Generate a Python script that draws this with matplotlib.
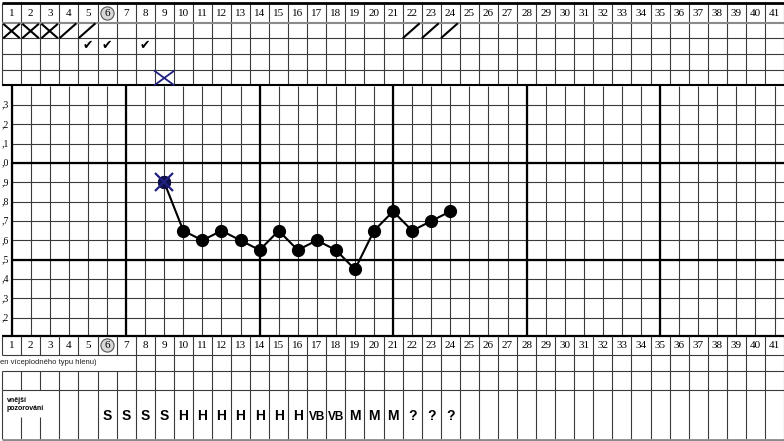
import numpy as np
import matplotlib.pyplot as plt

# basal temperature per cycle day
days = [9, 10, 11, 12, 13, 14, 15, 16, 17, 18, 19, 20, 21, 22, 23, 24]
temps = [36.90, 36.65, 36.60, 36.65, 36.60, 36.55, 36.65, 36.55,
         36.60, 36.55, 36.45, 36.65, 36.75, 36.65, 36.70, 36.75]
excluded_days = [9]

# marks in the header rows
cross_days = [1, 2, 3]
slash_days = [4, 5, 22, 23, 24]
check_days = [5, 6, 8]
blue_cross_days = [9]
circled_day = 6

# external observation ("vnější pozorování")
mucus_days = list(range(6, 25))
mucus_labels = ['S', 'S', 'S', 'S', 'H', 'H', 'H', 'H', 'H', 'H', 'H',
                'VB', 'VB', 'M', 'M', 'M', '?', '?', '?']

n_days = 41
temp_ticks = [37.3, 37.2, 37.1, 37.0, 36.9, 36.8, 36.7, 36.6, 36.5, 36.4, 36.3, 36.2]
temp_labels = [',3', ',2', ',1', ',0', ',9', ',8', ',7', ',6', ',5', ',4', ',3', ',2']
thick_days = [1, 7, 14, 21, 28, 35]
thick_temps = [37.0, 36.5]

W, H = 784, 441
col = 19.07  # pixels per day
x0 = 1 - 11.7 / col
x1 = x0 + W / col

fig = plt.figure(figsize=(W / 100, H / 100), dpi=100)
frame = fig.add_axes([0, 0, 1, 1])
frame.set_xlim(x0, x1)
frame.set_ylim(H, 0)
frame.axis('off')

edges = np.arange(0.5, n_days + 1.5)
thin = dict(color='#3a3a3a', lw=0.8)
serif = 'Liberation Serif'
sans = 'Liberation Sans'


def day_numbers(y):
    for d in range(1, n_days + 1):
        frame.text(d, y, str(d), ha='center', va='center', family=serif,
                   fontsize=8, zorder=5)
    frame.plot(circled_day, y - 0.3, 'o', ms=9.5, mfc='#d8d8d8', mec='#555',
               mew=0.8, zorder=4)


# ---- top header
frame.vlines(edges, 3.3, 85, **thin)
frame.hlines([38.3, 54, 70], 0.5, x1, **thin)
frame.hlines(22.7, 0.5, x1, color='#8a8a8a', lw=1.5)
frame.hlines(3.3, 0.5, x1, color='black', lw=2)
frame.hlines(85.3, 0.5, x1, color='black', lw=1.5)
day_numbers(13.5)

for d in cross_days:
    frame.plot([d - 0.4, d + 0.38], [24.5, 37.5], color='black', lw=1.5)
    frame.plot([d - 0.4, d + 0.38], [37.5, 24.5], color='black', lw=1.5)
for d in slash_days:
    frame.plot([d - 0.45, d + 0.35], [37.5, 24], color='black', lw=1.5)
for d in check_days:
    frame.text(d, 46, '\u2714', ha='center', va='center', fontsize=9,
               family='DejaVu Sans')
for d in blue_cross_days:
    frame.plot([d - 0.5, d + 0.5], [71, 85], color='#1f1f80', lw=1.3)
    frame.plot([d - 0.5, d + 0.5], [85, 71], color='#1f1f80', lw=1.3)

# ---- temperature chart
ty0, ty1 = 86, 335
tax = fig.add_axes([0, 1 - ty1 / H, 1, (ty1 - ty0) / H])
tax.patch.set_alpha(0)
tax.axis('off')
tax.set_xlim(x0, x1)
t_top = 37.3 + (105 - ty0) / 193.4
t_bot = 37.3 - (ty1 - 105) / 193.4
tax.set_ylim(t_bot, t_top)

tax.vlines(range(1, n_days + 1), t_bot, t_top, **thin)
tax.hlines(temp_ticks, 1, x1, **thin)
tax.vlines(thick_days, t_bot, t_top, color='black', lw=1.6)
tax.hlines(thick_temps, 1, x1, color='black', lw=1.6)
for t, lab in zip(temp_ticks, temp_labels):
    tax.text(x0 + 9 / col, t, lab, ha='right', va='center', family=serif,
             fontsize=7)

tax.plot(days, temps, '-o', color='black', lw=1.5, ms=8.5, zorder=5)
ex_t = [temps[days.index(d)] for d in excluded_days]
tax.plot(excluded_days, ex_t, 'o', color='#10104a', ms=8.5, zorder=6)
tax.plot(excluded_days, ex_t, 'x', color='#1f1f80', ms=13, mew=1.6, zorder=7)

# ---- bottom table
frame.hlines(335.5, 0.5, x1, color='black', lw=1.6)
frame.vlines(edges, 335.5, 355, **thin)
frame.hlines(355, 0.5, x1, **thin)
day_numbers(345.5)

frame.text(x0, 363, 'en víceplodného typu hlenu)', ha='left', va='center',
           family=sans, fontsize=5.5, color='#222')
frame.vlines(edges[edges >= 7.5], 355, 371, **thin)
frame.hlines(371, 0.5, x1, **thin)

frame.vlines(edges, 371, 390, **thin)
frame.hlines(390, 0.5, x1, **thin)

frame.vlines([0.5] + list(edges[edges >= 3.5]), 390, 439, **thin)
frame.vlines([1.5, 2.5], 417, 439, **thin)
frame.hlines(439.5, 0.5, x1, color='#8a8a8a', lw=2)
frame.text(x0 + 7 / col, 397, 'vnější\npozorování', ha='left', va='top',
           family=sans, fontweight='bold', fontsize=5, linespacing=1.1)

for d, lab in zip(mucus_days, mucus_labels):
    frame.text(d, 416.5, lab, ha='center', va='center', family=sans,
               fontweight='bold', fontsize=10 if len(lab) == 1 else 8.5)

fig.savefig('out.png', dpi=100)
